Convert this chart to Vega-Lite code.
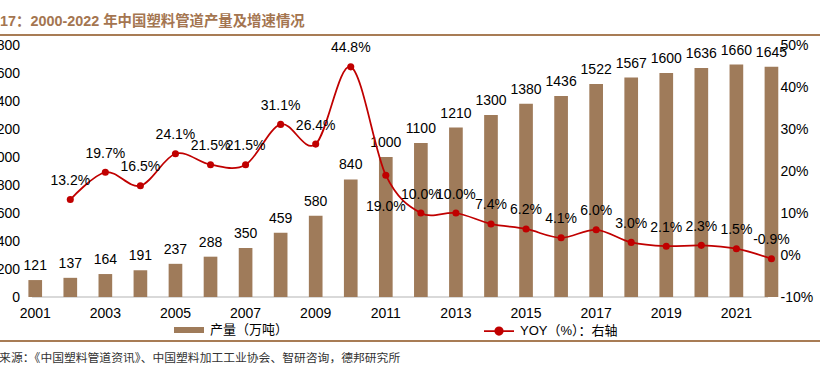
{
  "$schema": "https://vega.github.io/schema/vega-lite/v6.json",
  "width": 820,
  "height": 252,
  "autosize": {"type": "none"},
  "padding": {"left": 0, "top": 45, "right": 0, "bottom": 74},
  "config": {
    "view": {"stroke": null},
    "font": "Liberation Sans, Arial, sans-serif",
    "axis": {"grid": false},
    "locale": {"number": {"decimal": ".", "thousands": ",", "grouping": [3], "currency": ["$", ""], "minus": "-"}}
  },
  "title": {
    "text": "图17：2000-2022 年中国塑料管道产量及增速情况",
    "anchor": "start",
    "frame": "group",
    "dx": -14.4,
    "dy": 26,
    "offset": 19.5,
    "baseline": "alphabetic",
    "font": "Liberation Sans, Arial, Noto Sans CJK SC, sans-serif",
    "fontSize": 14.4,
    "fontWeight": "bold",
    "color": "#a47550"
  },
  "data": {
    "values": [
      {"year": 2001, "production": 121, "yoy": null},
      {"year": 2002, "production": 137, "yoy": 0.132},
      {"year": 2003, "production": 164, "yoy": 0.197},
      {"year": 2004, "production": 191, "yoy": 0.165},
      {"year": 2005, "production": 237, "yoy": 0.241},
      {"year": 2006, "production": 288, "yoy": 0.215},
      {"year": 2007, "production": 350, "yoy": 0.215},
      {"year": 2008, "production": 459, "yoy": 0.311},
      {"year": 2009, "production": 580, "yoy": 0.264},
      {"year": 2010, "production": 840, "yoy": 0.448},
      {"year": 2011, "production": 1000, "yoy": 0.19},
      {"year": 2012, "production": 1100, "yoy": 0.1},
      {"year": 2013, "production": 1210, "yoy": 0.1},
      {"year": 2014, "production": 1300, "yoy": 0.074},
      {"year": 2015, "production": 1380, "yoy": 0.062},
      {"year": 2016, "production": 1436, "yoy": 0.041},
      {"year": 2017, "production": 1522, "yoy": 0.06},
      {"year": 2018, "production": 1567, "yoy": 0.03},
      {"year": 2019, "production": 1600, "yoy": 0.021},
      {"year": 2020, "production": 1636, "yoy": 0.023},
      {"year": 2021, "production": 1660, "yoy": 0.015},
      {"year": 2022, "production": 1645, "yoy": -0.009}
    ]
  },
  "layer": [
    {
      "mark": {"type": "rule", "color": "#d9d9d9", "strokeWidth": 1.5},
      "encoding": {
        "x": {"datum": 2000.5, "type": "quantitative", "scale": {"domain": [1999.524, 2024.075], "nice": false, "zero": false}, "axis": null},
        "x2": {"datum": 2022.5},
        "y": {"datum": 0, "type": "quantitative", "scale": {"domain": [0, 1800], "nice": false, "zero": false}, "axis": null}
      }
    },
    {
      "mark": {"type": "rule", "color": "#a87c55", "strokeWidth": 2},
      "encoding": {
        "y": {"datum": 1871, "type": "quantitative", "scale": {"domain": [0, 1800], "nice": false, "zero": false}, "axis": null}
      }
    },
    {
      "mark": {"type": "rule", "color": "#a87c55", "strokeWidth": 2},
      "encoding": {
        "y": {"datum": -314, "type": "quantitative", "scale": {"domain": [0, 1800], "nice": false, "zero": false}, "axis": null}
      }
    },
    {
      "encoding": {
        "x": {
          "field": "year",
          "type": "ordinal",
          "scale": {"type": "band", "paddingInner": 0.61, "paddingOuter": 1.58, "align": 0.405},
          "axis": {
            "values": [2001, 2003, 2005, 2007, 2009, 2011, 2013, 2015, 2017, 2019, 2021],
            "labelAngle": 0,
            "domain": false,
            "ticks": false,
            "tickSize": 0,
            "labelPadding": 9,
            "labelFontSize": 14,
            "labelColor": "#000000",
            "labelFont": "Liberation Sans, Arial, sans-serif",
            "title": "资料来源：《中国塑料管道资讯》、中国塑料加工工业协会、智研咨询，德邦研究所",
            "titleAnchor": "start",
            "titleAlign": "left",
            "titleX": -25,
            "titleY": 60,
            "titleBaseline": "middle",
            "titleFont": "Noto Sans CJK SC",
            "titleFontSize": 11.8,
            "titleFontWeight": "normal",
            "titleColor": "#333333"
          }
        },
        "y": {
          "field": "production",
          "type": "quantitative",
          "scale": {"domain": [0, 1800], "nice": false, "zero": false},
          "axis": {
            "orient": "left",
            "values": [0, 200, 400, 600, 800, 1000, 1200, 1400, 1600, 1800],
            "format": "d",
            "title": null,
            "domain": false,
            "ticks": false,
            "tickSize": 0,
            "offset": -32,
            "labelPadding": 12.5,
            "labelFontSize": 14,
            "labelColor": "#000000",
            "labelFont": "Liberation Sans, Arial, sans-serif"
          }
        }
      },
      "layer": [
        {
          "mark": {"type": "bar"},
          "encoding": {
            "fill": {
              "datum": "产量（万吨）",
              "scale": {"range": ["#9f7b5a"]},
              "legend": {
                "orient": "none",
                "legendX": 174,
                "legendY": 270,
                "title": null,
                "padding": 0,
                "symbolType": "M-1,-0.2H1V0.2H-1Z",
                "symbolSize": 900,
                "symbolStrokeWidth": 0,
                "labelFont": "Noto Sans CJK SC",
                "labelFontSize": 13,
                "labelOffset": 6,
                "labelColor": "#000000"
              }
            }
          }
        },
        {
          "mark": {"type": "text", "dy": -14, "baseline": "middle", "fontSize": 14, "font": "Liberation Sans, Arial, sans-serif", "color": "#000000"},
          "encoding": {
            "text": {"field": "production", "type": "quantitative", "format": "d"}
          }
        }
      ]
    },
    {
      "transform": [{"filter": "datum.yoy != null"}],
      "encoding": {
        "x": {
          "field": "year",
          "type": "ordinal",
          "scale": {"type": "band", "domain": [2001, 2002, 2003, 2004, 2005, 2006, 2007, 2008, 2009, 2010, 2011, 2012, 2013, 2014, 2015, 2016, 2017, 2018, 2019, 2020, 2021, 2022], "paddingInner": 0.61, "paddingOuter": 1.58, "align": 0.405},
          "axis": null
        },
        "y": {
          "field": "yoy",
          "type": "quantitative",
          "scale": {"domain": [-0.1, 0.5], "nice": false, "zero": false},
          "axis": {
            "orient": "right",
            "values": [-0.1, 0, 0.1, 0.2, 0.3, 0.4, 0.5],
            "format": ".0%",
            "title": null,
            "domain": false,
            "ticks": false,
            "tickSize": 0,
            "offset": -54,
            "labelPadding": 14,
            "labelFontSize": 14,
            "labelColor": "#000000",
            "labelFont": "Liberation Sans, Arial, sans-serif"
          }
        }
      },
      "layer": [
        {
          "mark": {"type": "line", "interpolate": "cardinal", "strokeWidth": 1.75},
          "encoding": {
            "stroke": {
              "datum": "YOY（%）：右轴",
              "scale": {"range": ["#c00000"]},
              "legend": {
                "orient": "none",
                "legendX": 483,
                "legendY": 270,
                "title": null,
                "padding": 0,
                "symbolType": "M-1,0H1M-0.25,0A0.25,0.25 0 1,1 0.25,0A0.25,0.25 0 1,1 -0.25,0Z",
                "symbolSize": 900,
                "symbolStrokeWidth": 1.75,
                "symbolFillColor": "#c00000",
                "labelFont": "Liberation Sans, Arial, Noto Sans CJK SC, sans-serif",
                "labelFontSize": 13,
                "labelOffset": 5,
                "labelColor": "#000000"
              }
            }
          }
        },
        {
          "mark": {"type": "point", "filled": true, "size": 50, "color": "#c00000", "opacity": 1}
        },
        {
          "transform": [{"filter": "datum.year != 2011"}],
          "mark": {"type": "text", "dy": -18.5, "baseline": "middle", "fontSize": 14, "font": "Liberation Sans, Arial, sans-serif", "color": "#000000"},
          "encoding": {"text": {"field": "yoy", "type": "quantitative", "format": ".1%"}}
        },
        {
          "transform": [{"filter": "datum.year == 2011"}],
          "mark": {"type": "text", "dy": 32, "baseline": "middle", "fontSize": 14, "font": "Liberation Sans, Arial, sans-serif", "color": "#000000"},
          "encoding": {"text": {"field": "yoy", "type": "quantitative", "format": ".1%"}}
        }
      ]
    }
  ],
  "resolve": {"scale": {"x": "independent", "y": "independent"}}
}
